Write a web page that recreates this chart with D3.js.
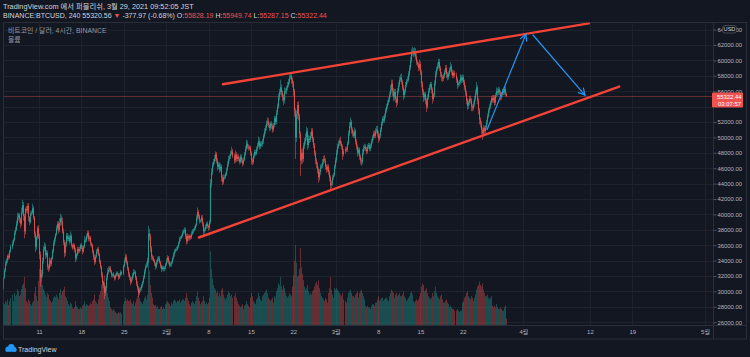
<!DOCTYPE html>
<html><head><meta charset="utf-8">
<script src="https://cdn.jsdelivr.net/npm/d3@7"></script>
<style>
html,body{margin:0;padding:0;background:#131722;overflow:hidden;}
svg{display:block;}
text{font-family:"Liberation Sans","Noto Sans CJK KR",sans-serif;}
</style></head><body>
<svg id="c" width="750" height="357"></svg>
<script>
// ---- DATA (prices in units of 100 USD, 4H candles) ----
const firstOpen = 319;
const closes = [
314,305,318,327,336,340, 346,344,352,358,362,367, 376,380,388,396,399,394, 388,403,412,398,378,407,
405,411,396,390,401,402, 408,396,375,358,370,382, 372,348,318,322,339,355, 358,347,350,332,330,340,
336,343,352,362,368,374, 382,388,380,389,395,391, 378,364,350,361,372,368, 370,365,372,360,357,360,
354,343,348,355,352,355, 360,357,352,358,366,366, 372,376,368,370,362,360, 352,345,338,345,352,355,
348,339,332,322,312,308, 298,304,318,325,328,330, 326,321,322,320,317,321, 324,322,318,321,325,323,
333,340,345,338,330,323, 318,312,316,321,325,325, 318,310,305,298,302,304, 308,312,318,326,332,334,
340,375,372,356,345,343, 340,336,332,338,342,343, 338,333,329,331,329,331,
335,340,344,338,334,335, 338,343,348,352,354,355, 358,363,368,370,372,376, 378,380,372,365,372,369,
372,370,375,378,380,382, 386,395,403,398,392,392, 396,388,378,380,384,388, 385,383,390,440,455,464,
468,472,478,470,462,465, 458,462,448,442,448,449, 452,458,465,472,475,479, 482,476,470,478,472,475,
472,468,475,470,466,471, 478,485,492,488,486,487, 480,470,468,476,481,479, 485,490,495,488,492,491,
495,502,508,512,518,521, 516,512,518,515,510,516, 525,520,532,540,552,559, 565,558,552,548,560,560,
564,568,572,578,580,575, 570,560,535,500,530,542, 528,505,470,480,472,489, 495,500,508,490,498,497,
502,508,498,490,480,470, 465,458,448,455,462,463, 468,472,470,462,458,462, 455,448,438,440,448,451,
462,470,480,488,492,496, 492,488,478,482,485,484, 492,505,515,520,510,505, 502,508,495,488,480,484,
475,470,468,480,486,488, 485,482,488,490,485,489, 495,500,505,502,508,510, 505,498,502,510,518,524,
522,528,535,540,545,549, 555,562,570,560,552,559, 550,545,560,568,575,578, 572,565,555,560,568,573,
575,582,590,600,610,612, 608,612,605,598,595,590, 595,585,570,560,552,556, 548,540,552,560,565,569,
562,550,555,570,582,589, 592,598,590,582,578,576, 580,585,590,582,578,583, 588,592,585,580,584,581,
575,568,570,572,578,574, 578,572,565,558,548,541, 545,550,548,540,538,543, 550,558,565,548,535,523,
518,510,505,512,508,513, 520,528,535,540,545,551, 548,552,545,555,560,558, 562,558,552,556,560,558,
563,557,553.2244
];
const upperWicks = [
3,2,2,3,4,3, 2,3,2,3,4,2, 3,4,4,6,3,3, 2,6,7,4,3,2,
4,3,4,2,3,3, 6,3,2,3,2,3, 4,3,4,6,5,4, 6,4,4,3,3,4,
3,2,3,4,3,2, 4,3,3,6,6,4, 5,4,3,3,4,4, 4,3,6,3,2,3,
2,3,2,3,3,3, 2,3,3,2,6,4, 3,3,3,3,2,2, 2,2,3,3,3,2,
3,2,2,2,3,2, 3,3,4,5,4,3, 3,2,2,3,2,2, 2,2,2,3,3,2,
2,3,4,3,2,2, 2,2,3,3,4,3, 2,2,3,2,3,2, 2,2,3,3,3,4,
4,10,6,3,3,3, 3,2,2,3,3,3, 3,2,2,3,2,2,
2,3,3,2,2,3, 2,2,3,3,2,3, 2,2,3,2,2,3, 3,3,3,3,3,2,
2,2,3,3,2,3, 2,4,6,3,2,2, 3,3,2,3,3,2, 3,2,3,6,5,4,
4,5,4,3,3,3, 3,4,3,3,4,3, 3,3,4,4,3,4, 6,3,3,5,3,3,
3,3,3,3,3,3, 3,4,5,4,3,3, 2,2,3,3,3,3, 3,3,6,4,3,3,
3,3,4,4,4,5, 4,3,3,3,3,3, 3,3,4,4,5,4, 10,4,3,4,5,4,
3,4,4,4,3,3, 3,3,3,3,5,4, 5,3,3,5,6,4, 4,5,6,4,5,4,
5,4,4,3,3,3, 3,3,3,4,3,3, 4,4,5,3,3,3, 3,3,3,4,3,3,
3,4,4,4,4,3, 5,3,3,3,3,3, 3,4,5,6,3,3, 4,5,3,3,3,3,
3,3,3,5,4,4, 3,3,3,3,3,3, 3,3,3,4,4,5, 5,3,3,3,3,3,
4,3,3,3,3,3, 4,6,5,5,4,4, 4,3,4,4,4,4, 5,3,3,3,4,3,
4,4,4,5,5,6, 4,5,4,4,3,3, 6,4,3,3,3,3, 3,3,4,4,4,3,
3,3,3,4,4,3, 5,4,4,3,3,3, 3,3,4,4,3,3, 3,6,3,3,3,3,
3,3,3,3,4,3, 4,3,3,3,3,3, 4,4,4,3,3,4, 4,4,7,3,3,3,
3,3,3,4,3,3, 3,3,3,3,3,3, 4,3,3,3,5,4, 4,3,3,3,3,3,
3,3,1.2
];
const lowerWicks = [
4,6,3,2,2,3, 3,3,2,2,3,2, 2,3,2,3,4,5, 6,3,3,6,9,4,
3,4,5,4,2,3, 2,3,5,7,4,3, 4,6,12,5,4,3, 3,5,3,4,5,3,
4,3,2,2,3,3, 2,3,5,3,4,5, 3,4,6,4,3,3, 3,4,2,3,3,2,
3,5,3,2,3,2, 3,2,4,2,2,3, 2,3,3,3,3,3, 3,4,4,2,2,3,
2,3,3,4,4,4, 8,4,3,3,3,3, 2,3,3,2,3,2, 2,2,3,2,2,2,
2,2,3,3,3,4, 3,4,2,2,3,3, 3,3,4,5,3,3, 3,3,2,2,3,2,
3,3,6,5,4,3, 2,3,4,2,3,3, 2,3,4,2,3,3,
3,2,3,3,3,2, 3,2,2,3,2,2, 2,2,2,3,2,2, 2,3,4,4,3,3,
3,3,2,2,3,2, 2,2,3,4,4,3, 2,4,5,3,2,3, 3,4,3,3,5,4,
3,3,3,4,5,3, 4,3,5,4,3,3, 3,2,2,3,3,3, 2,3,4,3,4,3,
3,3,2,3,4,2, 2,2,3,3,3,3, 4,5,4,3,3,3, 2,3,3,4,3,3,
3,3,3,3,3,3, 3,4,3,4,4,3, 3,4,3,3,3,4, 4,4,5,6,4,4,
4,3,3,3,3,5, 5,6,8,28,6,6, 6,6,20,5,6,4, 4,4,4,6,4,4,
3,3,4,4,4,5, 5,5,7,4,4,3, 3,3,3,4,4,3, 4,5,8,4,3,3,
2,3,3,3,3,3, 3,4,7,3,3,3, 3,2,3,3,5,4, 3,3,4,4,5,3,
4,5,5,3,3,3, 3,4,3,3,3,3, 3,3,3,3,3,3, 4,5,3,3,3,3,
3,3,3,3,3,3, 3,3,4,6,5,4, 5,6,3,3,3,3, 3,4,6,4,3,3,
3,3,3,3,3,4, 4,3,4,4,3,4, 3,4,5,5,6,4, 5,7,3,3,3,3,
5,6,3,3,3,4, 3,3,4,4,5,4, 3,3,3,5,4,3, 3,3,4,3,3,3,
4,5,3,3,3,3, 3,4,4,4,5,5, 4,3,4,6,4,3, 3,3,3,5,5,6,
5,6,8,4,4,3, 3,3,3,3,3,3, 3,3,4,3,3,4, 3,3,4,3,3,3,
3,3,0.35
];
const volumes = [
30,35,28,26,30,28, 32,25,30,34,38,30, 40,36,38,45,42,36, 38,45,50,52,60,46,
30,28,32,30,26,24, 28,30,40,48,36,30, 55,70,85,65,50,45, 42,38,35,40,38,32,
30,28,30,34,36,35, 38,35,32,40,45,38, 42,44,48,36,34,30, 26,24,28,26,22,20,
22,30,24,22,20,20, 22,20,24,26,30,24, 26,25,24,25,28,26, 30,32,38,30,28,26,
32,38,42,50,58,55, 62,48,45,40,34,30, 22,20,18,20,18,16, 15,14,16,15,16,14,
26,30,34,30,32,30, 30,32,28,26,30,24, 28,32,36,44,34,30, 28,26,30,34,36,32,
38,90,68,50,40,34, 26,24,25,22,24,20, 20,22,24,20,22,20,
26,28,30,28,26,24, 28,26,30,32,30,28, 30,30,32,28,30,32, 32,30,34,40,34,30,
26,24,28,30,28,26, 30,36,42,34,30,26, 28,30,36,30,26,28, 26,28,34,92,70,58,
50,46,44,40,42,36, 40,36,44,46,38,34, 32,34,38,42,40,36, 38,34,36,40,34,30,
26,24,22,24,26,20, 24,26,30,26,24,22, 34,40,36,30,28,26, 32,34,40,36,32,30,
36,38,40,42,44,40, 34,32,30,32,34,28, 36,34,42,46,52,50, 60,48,44,50,46,40,
36,34,36,40,38,36, 48,62,80,100,78,60, 62,70,96,72,64,56, 48,44,46,50,42,38,
40,38,42,44,48,52, 54,50,56,46,40,36, 34,32,30,34,32,28, 40,46,60,44,38,34,
46,44,46,44,42,40, 38,36,40,32,30,28, 34,40,42,44,40,36, 36,34,38,40,42,34,
40,42,44,40,36,32, 24,22,24,22,22,20, 24,26,26,24,28,28, 32,36,30,32,34,34,
30,32,34,34,32,30, 36,40,44,42,40,34, 38,40,36,38,40,36, 36,38,42,36,34,30,
32,34,36,40,42,38, 30,28,30,32,30,32, 36,40,48,52,50,42, 44,46,40,36,34,32,
34,40,36,42,48,40, 36,34,32,36,38,32, 28,28,30,32,28,26, 22,24,22,20,20,18,
18,20,18,16,18,18, 28,30,34,36,40,42, 36,34,32,36,34,30, 34,38,44,48,50,54,
50,48,52,44,40,36, 36,38,34,32,34,36, 24,22,24,22,26,22, 20,20,22,20,18,18,
22,24,8
];
const timeTicks = ["2021-01-11","2021-01-18","2021-01-25","2021-02-01","2021-02-08","2021-02-15","2021-02-22",
  "2021-03-01","2021-03-08","2021-03-15","2021-03-22","2021-04-01","2021-04-12","2021-04-19","2021-05-01"];
const timeTickLabels = ["11","18","25","2월","8","15","22","3월","8","15","22","4월","12","19","5월"];
const priceTicks = [26000,28000,30000,32000,34000,36000,38000,40000,42000,44000,46000,48000,50000,
  52000,54000,56000,58000,60000,62000,64000];
const lastPrice = 55322.44;
const trendLines = [
  {t1:"2021-02-10T09:00", p1:56900, t2:"2021-04-11T20:00", p2:64800},
  {t1:"2021-02-06T10:00", p1:37000, t2:"2021-04-16T20:00", p2:56600}
];
const arrows = [
  {t1:"2021-03-26T00:00", p1:51000, t2:"2021-04-01T10:00", p2:63400},
  {t1:"2021-04-02T14:00", p1:63300, t2:"2021-04-11T04:00", p2:55500}
];

// ---- CHART ----
const W = 750, H = 357;
const plotL = 3.5, plotR = 713, plotT = 22.5, plotB = 325;
const parseDay = d3.utcParse("%Y-%m-%d");
const parseT = d3.utcParse("%Y-%m-%dT%H:%M");
const x = d3.scaleUtc().domain([parseDay("2021-01-11"), parseDay("2021-05-01")]).range([39, 705]);
const y = d3.scaleLinear().domain([26000, 62000]).range([322.2, 45]);
const yv = d3.scaleLinear().domain([0, 100]).range([plotB, plotB - 80]);
const startT = Date.UTC(2021, 0, 4, 21);
const step = 4 * 3600 * 1000;

const svg = d3.select("#c");
svg.append("rect").attr("width", W).attr("height", H).attr("fill", "#131722");
svg.append("rect").attr("x", 3.5).attr("y", 22.5).attr("width", 743).attr("height", 316.5)
  .attr("fill", "#131722").attr("stroke", "#2a2e39");

const defs = svg.append("defs");
defs.append("clipPath").attr("id", "clip").append("rect")
  .attr("x", plotL).attr("y", plotT).attr("width", plotR - plotL).attr("height", plotB - plotT);

// grid
const grid = svg.append("g");
grid.selectAll("line.v").data(timeTicks).join("line")
  .attr("x1", d => Math.round(x(parseDay(d))) + 0.5).attr("x2", d => Math.round(x(parseDay(d))) + 0.5)
  .attr("y1", plotT).attr("y2", plotB).attr("stroke", "#1e222d");
grid.selectAll("line.h").data(priceTicks).join("line")
  .attr("x1", plotL).attr("x2", plotR)
  .attr("y1", d => Math.round(y(d)) + 0.5).attr("y2", d => Math.round(y(d)) + 0.5).attr("stroke", "#1e222d");

// candles + volume
const candles = closes.map((c, i) => {
  const o = i === 0 ? firstOpen : closes[i - 1];
  return {
    t: new Date(startT + i * step),
    o: o * 100, c: c * 100,
    h: (Math.max(o, c) + upperWicks[i]) * 100,
    l: (Math.min(o, c) - lowerWicks[i]) * 100,
    v: volumes[i]
  };
});
const UP = "#26a69a", DN = "#ef5350";
const body = svg.append("g").attr("clip-path", "url(#clip)");
body.selectAll("rect.vol").data(candles).join("rect")
  .attr("x", d => Math.floor(x(d.t))).attr("width", 1)
  .attr("y", d => yv(d.v)).attr("height", d => plotB - yv(d.v))
  .attr("fill", d => d.c >= d.o ? UP : DN).attr("opacity", 0.38);

// last price line
body.append("line").attr("x1", plotL).attr("x2", plotR)
  .attr("y1", Math.round(y(lastPrice)) + 0.5).attr("y2", Math.round(y(lastPrice)) + 0.5)
  .attr("stroke", DN).attr("stroke-opacity", 0.35);

body.selectAll("rect.wick").data(candles).join("rect")
  .attr("x", d => Math.floor(x(d.t))).attr("width", 1)
  .attr("y", d => y(d.h)).attr("height", d => Math.max(1, y(d.l) - y(d.h)))
  .attr("fill", d => d.c >= d.o ? UP : DN).attr("opacity", 0.55);
body.selectAll("rect.body").data(candles).join("rect")
  .attr("x", d => Math.floor(x(d.t))).attr("width", 1)
  .attr("y", d => y(Math.max(d.o, d.c))).attr("height", d => Math.max(1, Math.abs(y(d.o) - y(d.c))))
  .attr("fill", d => d.c >= d.o ? UP : DN).attr("opacity", 0.8);

// trend lines
const draw = svg.append("g").attr("clip-path", "url(#clip)");
draw.selectAll("line.trend").data(trendLines).join("line")
  .attr("x1", d => x(parseT(d.t1))).attr("y1", d => y(d.p1))
  .attr("x2", d => x(parseT(d.t2))).attr("y2", d => y(d.p2))
  .attr("stroke", "#f44336").attr("stroke-width", 2.4).attr("stroke-linecap", "round");
// arrows
arrows.forEach(a => {
  const x1 = x(parseT(a.t1)), y1 = y(a.p1), x2 = x(parseT(a.t2)), y2 = y(a.p2);
  const ang = Math.atan2(y2 - y1, x2 - x1);
  const g = draw.append("g").attr("stroke", "#2196f3").attr("stroke-width", 1.2).attr("fill", "none")
    .attr("stroke-linecap", "round");
  g.append("line").attr("x1", x1).attr("y1", y1).attr("x2", x2).attr("y2", y2);
  const L = 7;
  [-0.5, 0.5].forEach(s => {
    g.append("line").attr("x1", x2).attr("y1", y2)
      .attr("x2", x2 - L * Math.cos(ang + s)).attr("y2", y2 - L * Math.sin(ang + s));
  });
});

// axes separators
svg.append("line").attr("x1", plotR + 0.5).attr("x2", plotR + 0.5).attr("y1", plotT).attr("y2", 339)
  .attr("stroke", "#2a2e39");
svg.append("line").attr("x1", plotL).attr("x2", 746.5).attr("y1", plotB + 0.5).attr("y2", plotB + 0.5)
  .attr("stroke", "#2a2e39");

// price axis (the 54000 label sits behind the last-price tag, so it is not drawn)
const ly = y(lastPrice);
const shownTicks = priceTicks.filter(p => !(y(p) > ly - 3.8 && y(p) < ly + 13));
const ya = svg.append("g").attr("transform", `translate(${plotR + 0.5},0)`)
  .call(d3.axisRight(y).tickValues(shownTicks).tickFormat(d3.format(".2f")).tickSize(3).tickPadding(1));
ya.select(".domain").remove();
ya.selectAll("line").attr("stroke", "#50535e");
ya.selectAll("text").attr("fill", "#b2b5be").attr("font-size", 5.9).attr("font-family", "Liberation Sans");

// time axis
const xa = svg.append("g").attr("transform", `translate(0,${plotB})`)
  .call(d3.axisBottom(x).tickValues(timeTicks.map(parseDay)).tickFormat((d, i) => timeTickLabels[i])
    .tickSize(0).tickPadding(4.5));
xa.select(".domain").remove();
xa.selectAll("text").attr("fill", "#b2b5be").attr("font-size", 6);

// USD badge
svg.append("rect").attr("x", 722.5).attr("y", 25.5).attr("width", 14).attr("height", 7.5).attr("rx", 2.5)
  .attr("fill", "#131722").attr("stroke", "#50535e").attr("stroke-width", 0.8);
svg.append("text").attr("x", 729.5).attr("y", 31.4).attr("text-anchor", "middle").attr("font-size", 5.6)
  .attr("fill", "#d1d4dc").text("USD");

// last price label
svg.append("rect").attr("x", 712).attr("y", ly - 3.8).attr("width", 31).attr("height", 15)
  .attr("rx", 1).attr("fill", "#ef5350");
svg.append("text").attr("x", 717).attr("y", ly + 2.1).attr("font-size", 5.9).attr("fill", "#ffffff")
  .attr("font-family", "Liberation Sans").text(d3.format(".2f")(lastPrice));
svg.append("text").attr("x", 718).attr("y", ly + 9.3).attr("font-size", 5.9).attr("fill", "#ffffff")
  .attr("font-family", "Liberation Sans").text("03:07:57");

// headers
svg.append("text").attr("x", 3).attr("y", 9.2).attr("font-size", 7.3).attr("fill", "#d1d4dc")
  .text("TradingView.com 에서 퍼블리쉬, 3월 29, 2021 09:52:05 JST");
const h2 = svg.append("text").attr("x", 3).attr("y", 18.3).attr("font-size", 7).attr("fill", "#d1d4dc");
h2.append("tspan").text("BINANCE:BTCUSD, 240 55320.56 ");
h2.append("tspan").attr("fill", "#ef5350").text("▼");
h2.append("tspan").text(" -377.97 (-0.68%) O:");
h2.append("tspan").attr("fill", "#ef5350").text("55828.19");
h2.append("tspan").text(" H:");
h2.append("tspan").attr("fill", "#ef5350").text("55949.74");
h2.append("tspan").text(" L:");
h2.append("tspan").attr("fill", "#ef5350").text("55287.15");
h2.append("tspan").text(" C:");
h2.append("tspan").attr("fill", "#ef5350").text("55322.44");

svg.append("text").attr("x", 8).attr("y", 33.4).attr("font-size", 6.9).attr("fill", "#9598a1")
  .text("비트코인 / 달러, 4시간, BINANCE");
svg.append("text").attr("x", 8).attr("y", 42.4).attr("font-size", 6.9).attr("fill", "#9598a1")
  .text("볼륨");

// TradingView logo
const logo = svg.append("g").attr("fill", "#2196f3");
logo.append("circle").attr("cx", 8).attr("cy", 349).attr("r", 2.6);
logo.append("circle").attr("cx", 11.3).attr("cy", 347.2).attr("r", 3.2);
logo.append("circle").attr("cx", 14.2).attr("cy", 349.4).attr("r", 2.3);
logo.append("rect").attr("x", 5.5).attr("y", 349).attr("width", 11).attr("height", 2.7).attr("rx", 1);
svg.append("text").attr("x", 18).attr("y", 351.5).attr("font-size", 7).attr("fill", "#d1d4dc")
  .text("TradingView");
</script>
</body></html>
